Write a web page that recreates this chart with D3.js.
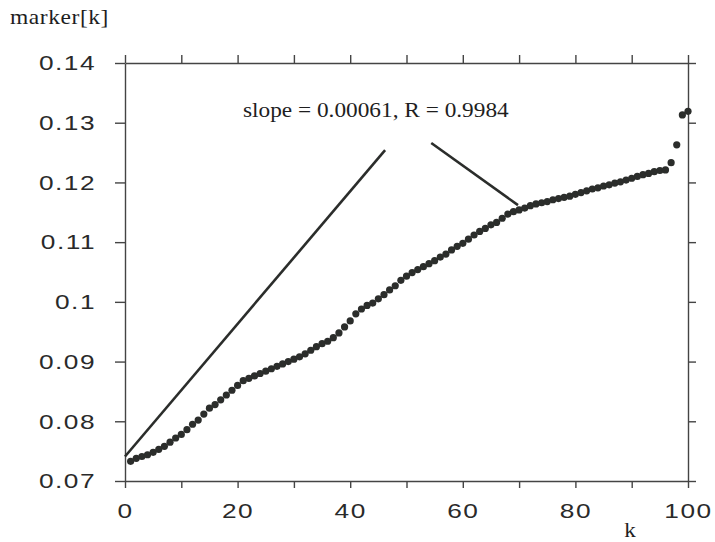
<!DOCTYPE html>
<html>
<head>
<meta charset="utf-8">
<script src="https://cdn.jsdelivr.net/npm/d3@7/dist/d3.min.js"></script>
<style>
  body { margin: 0; background: #fff; }
</style>
</head>
<body>
<div id="chart"></div>
<script>
// --- data: marker[k] for k = 1..100 ---
const markerValues = [
  0.0733, 0.0738, 0.0741, 0.0744, 0.0748, 0.0753, 0.0758, 0.0765, 0.0772, 0.0778,
  0.0786, 0.0795, 0.0802, 0.0812, 0.0822, 0.0828, 0.0836, 0.0844, 0.0852, 0.0860,
  0.0868, 0.0872, 0.0876, 0.0880, 0.0884, 0.0888, 0.0892, 0.0896, 0.0900, 0.0904,
  0.0908, 0.0913, 0.0919, 0.0925, 0.0930, 0.0934, 0.0940, 0.0948, 0.0958, 0.0968,
  0.0980, 0.0988, 0.0994, 0.0998, 0.1005, 0.1012, 0.1020, 0.1027, 0.1036, 0.1043,
  0.1049, 0.1054, 0.1059, 0.1064, 0.1069, 0.1075, 0.1080, 0.1087, 0.1093, 0.1098,
  0.1105, 0.1112, 0.1118, 0.1123, 0.1129, 0.1133, 0.1140, 0.1147, 0.1151, 0.1154,
  0.1157, 0.1161, 0.1164, 0.1166, 0.1168, 0.1171, 0.1173, 0.1175, 0.1177, 0.1180,
  0.1183, 0.1186, 0.1189, 0.1191, 0.1194, 0.1196, 0.1199, 0.1201, 0.1204, 0.1207,
  0.1210, 0.1213, 0.1215, 0.1218, 0.1220, 0.1221, 0.1233, 0.1263, 0.1313, 0.1319
];

const xTicks = [0, 10, 20, 30, 40, 50, 60, 70, 80, 90, 100];
const xLabels = [0, 20, 40, 60, 80, 100];
const yTicks = [0.07, 0.08, 0.09, 0.1, 0.11, 0.12, 0.13, 0.14];

// annotation text and the two pointer lines (k, value)
const annotationText = "slope = 0.00061, R = 0.9984";
const pointerA = [[0, 0.0741], [46.2, 0.1254]];
const pointerB = [[54.4, 0.1266], [69.8, 0.1162]];

// --- setup ---
const width = 715, height = 542;
const ink = "#2b2d2b";

const svg = d3.select("#chart")
  .append("svg")
  .attr("width", width)
  .attr("height", height);

const x = d3.scaleLinear().domain([0, 100]).range([125, 688]);
const y = d3.scaleLinear().domain([0.07, 0.14]).range([481, 63]);

// stretch text horizontally, the scan has wide lettering
function widen(sel, sx) {
  sel.each(function() {
    const t = d3.select(this);
    const x0 = +t.attr("x") || 0;
    t.attr("x", x0 / sx).attr("transform", `scale(${sx},1)`);
  });
}

function styleAxis(g) {
  g.select(".domain").attr("stroke", "#444").attr("stroke-width", 1.4);
  g.selectAll(".tick line").attr("stroke", "#444").attr("stroke-width", 1.4);
  g.selectAll(".tick text")
    .attr("fill", "#2a2a2a")
    .attr("font-family", "'Liberation Sans', Arial, sans-serif")
    .attr("font-size", "21px")
    .attr("letter-spacing", "1.2px");
}

// --- axes (box) ---
const fmtX = d => xLabels.includes(d) ? d : "";

const axisB = svg.append("g")
  .attr("transform", `translate(0,${y(0.07)})`)
  .call(d3.axisBottom(x).tickValues(xTicks).tickFormat(fmtX)
    .tickSizeInner(7).tickSizeOuter(0).tickPadding(15));
styleAxis(axisB);
widen(axisB.selectAll(".tick text"), 1.25);

const axisT = svg.append("g")
  .attr("transform", `translate(0,${y(0.14)})`)
  .call(d3.axisTop(x).tickValues(xTicks).tickFormat("")
    .tickSizeInner(8).tickSizeOuter(0));
styleAxis(axisT);

const axisL = svg.append("g")
  .attr("transform", `translate(${x(0)},0)`)
  .call(d3.axisLeft(y).tickValues(yTicks).tickFormat(d3.format(".2~f"))
    .tickSizeInner(10).tickSizeOuter(0).tickPadding(19));
styleAxis(axisL);
widen(axisL.selectAll(".tick text"), 1.25);

const axisR = svg.append("g")
  .attr("transform", `translate(${x(100)},0)`)
  .call(d3.axisRight(y).tickValues(yTicks).tickFormat("")
    .tickSizeInner(8).tickSizeOuter(0));
styleAxis(axisR);

// --- pointer lines ---
const line = d3.line().x(d => x(d[0])).y(d => y(d[1]));
[pointerA, pointerB].forEach(p => {
  svg.append("path")
    .attr("d", line(p))
    .attr("fill", "none")
    .attr("stroke", ink)
    .attr("stroke-width", 2.6);
});

// --- points ---
svg.append("g")
  .selectAll("circle")
  .data(markerValues)
  .enter()
  .append("circle")
  .attr("cx", (d, i) => x(i + 1))
  .attr("cy", d => y(d))
  .attr("r", 3.6)
  .attr("fill", ink);

// --- texts ---
const serif = "'Liberation Serif', 'Times New Roman', serif";

svg.append("text")
  .attr("x", 10).attr("y", 24)
  .attr("font-family", serif)
  .attr("font-size", "21px")
  .attr("fill", "#1e1e1e")
  .attr("letter-spacing", "0.5px")
  .text("marker[k]")
  .call(widen, 1.12);

svg.append("text")
  .attr("x", 243).attr("y", 117)
  .attr("font-family", serif)
  .attr("font-size", "21px")
  .attr("fill", "#1e1e1e")
  .text(annotationText)
  .call(widen, 1.11);

svg.append("text")
  .attr("x", 630).attr("y", 537)
  .attr("text-anchor", "middle")
  .attr("font-family", serif)
  .attr("font-size", "21px")
  .attr("fill", "#1e1e1e")
  .text("k")
  .call(widen, 1.1);
</script>
</body>
</html>
